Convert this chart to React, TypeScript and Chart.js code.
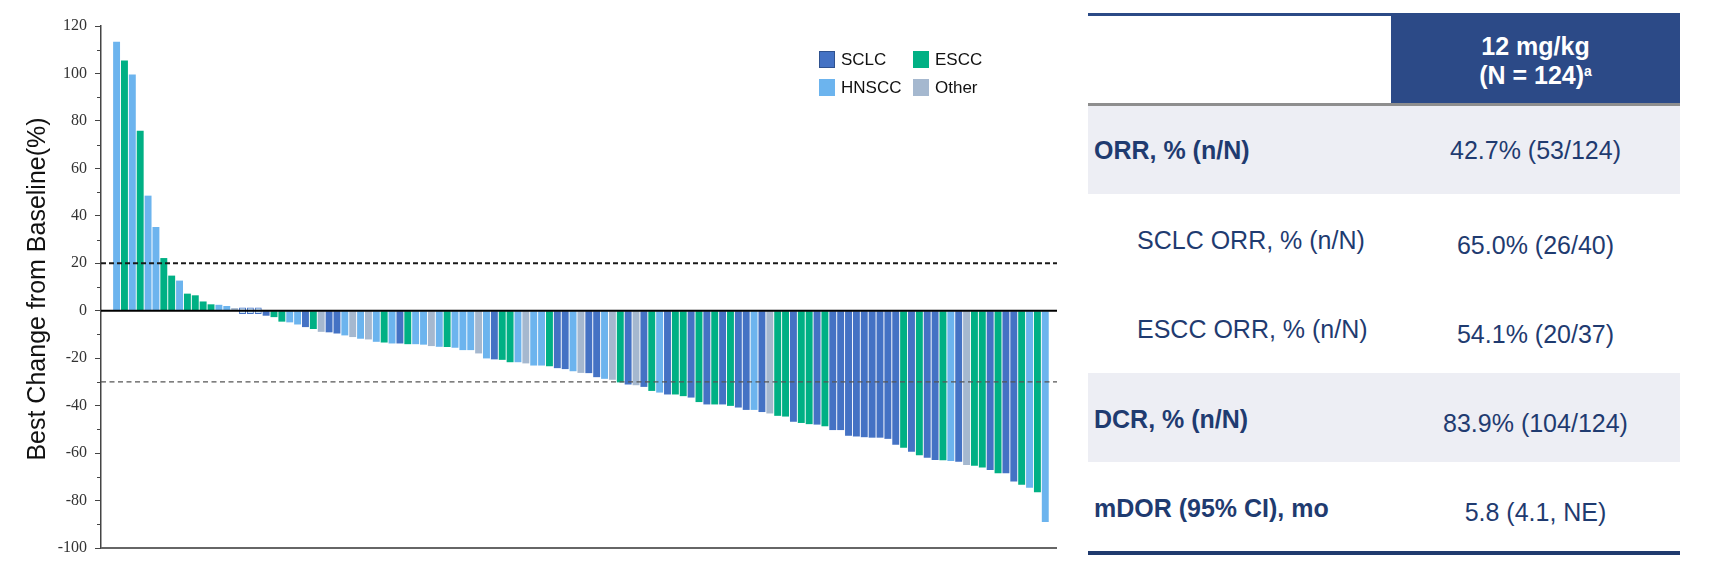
import React, { useEffect, useRef } from "react";
import { Chart, registerables } from "chart.js";

Chart.register(...registerables);

// ---------- DATA ----------
const changes: number[] = [
  113.4, 105.5, 99.6, 75.8, 48.5, 35.3, 22.2, 14.8, 12.7, 7.2,
  6.5, 3.9, 2.7, 2.5, 2.0, 1.1, 0, 0, 0, -2.1,
  -2.7, -4.6, -4.9, -5.8, -6.9, -7.7, -8.9, -9.1, -9.6, -10.4,
  -11.1, -11.8, -12.1, -13.1, -13.4, -13.8, -13.8, -14.1, -14.1, -14.3,
  -14.9, -15.2, -15.3, -15.6, -16.6, -16.6, -18.0, -20.1, -20.5, -20.7,
  -21.7, -21.7, -22.2, -23.1, -23.1, -23.4, -24.2, -24.6, -25.5, -26.2,
  -26.3, -28.0, -28.7, -29.1, -30.2, -31.1, -31.4, -32.1, -33.8, -34.5,
  -35.3, -35.3, -36.0, -36.6, -38.5, -39.5, -39.5, -39.5, -40.1, -40.8,
  -41.8, -41.8, -42.7, -43.3, -44.3, -44.6, -46.8, -47.3, -47.8, -48.0,
  -48.7, -50.3, -50.3, -52.7, -53.0, -53.3, -53.5, -53.5, -54.0, -56.5,
  -57.7, -59.4, -60.9, -62.0, -62.9, -63.0, -63.3, -63.6, -65.0, -65.3,
  -66.1, -67.1, -68.5, -68.5, -72.0, -73.3, -74.6, -76.5, -89.0,
];

const tumorTypes: string[] = [
  "HNSCC", "ESCC", "HNSCC", "ESCC", "HNSCC", "HNSCC", "ESCC", "ESCC", "HNSCC", "ESCC",
  "ESCC", "ESCC", "ESCC", "HNSCC", "HNSCC", "Other", "SCLC", "SCLC", "SCLC", "SCLC",
  "ESCC", "ESCC", "HNSCC", "HNSCC", "SCLC", "ESCC", "Other", "SCLC", "SCLC", "HNSCC",
  "Other", "HNSCC", "Other", "HNSCC", "ESCC", "HNSCC", "SCLC", "ESCC", "HNSCC", "HNSCC",
  "Other", "HNSCC", "ESCC", "HNSCC", "HNSCC", "HNSCC", "Other", "HNSCC", "SCLC", "ESCC",
  "ESCC", "HNSCC", "Other", "HNSCC", "HNSCC", "ESCC", "SCLC", "SCLC", "HNSCC", "Other",
  "SCLC", "SCLC", "HNSCC", "Other", "ESCC", "SCLC", "Other", "SCLC", "ESCC", "HNSCC",
  "SCLC", "ESCC", "ESCC", "SCLC", "ESCC", "SCLC", "ESCC", "SCLC", "ESCC", "SCLC",
  "SCLC", "HNSCC", "SCLC", "Other", "ESCC", "ESCC", "SCLC", "ESCC", "ESCC", "SCLC",
  "ESCC", "SCLC", "SCLC", "SCLC", "SCLC", "SCLC", "SCLC", "SCLC", "SCLC", "SCLC",
  "ESCC", "SCLC", "ESCC", "SCLC", "SCLC", "ESCC", "HNSCC", "SCLC", "Other", "ESCC",
  "ESCC", "SCLC", "ESCC", "SCLC", "SCLC", "ESCC", "HNSCC", "ESCC", "HNSCC",
];

const legendItems: string[] = ["SCLC", "ESCC", "HNSCC", "Other"];
const yTicks = { min: -100, max: 120, step: 20 };
const refLevels: number[] = [20, -30];
const yTitle = "Best Change from Baseline(%)";

const tableHeader: string[] = ["12 mg/kg", "(N = 124)"];
const tableLabels: string[] = [
  "ORR, % (n/N)",
  "SCLC ORR, % (n/N)",
  "ESCC ORR, % (n/N)",
  "DCR, % (n/N)",
  "mDOR (95% CI), mo",
];
const tableValues: string[] = [
  "42.7% (53/124)",
  "65.0% (26/40)",
  "54.1% (20/37)",
  "83.9% (104/124)",
  "5.8 (4.1, NE)",
];
const tableBold: boolean[] = [true, false, false, true, true];
const tableIndent: boolean[] = [false, true, true, false, false];
const tableShaded: boolean[] = [true, false, false, true, false];

// ---------- STYLE ----------
const COLORS: Record<string, string> = {
  SCLC: "#4472C4",
  ESCC: "#00B084",
  HNSCC: "#6CB4EE",
  Other: "#A5B8CF",
};
const NAVY = "#1F3B70";
const SANS = "'Liberation Sans', Arial, sans-serif";
const ZERO_MARK = 1.4;

const refLinesPlugin = {
  id: "refLines",
  afterDatasetsDraw(chart: any) {
    const { ctx, chartArea, scales } = chart;
    const y = scales.y;
    const l = chartArea.left;
    const r = chartArea.right;
    ctx.save();
    refLevels.forEach((lv, i) => {
      const py = y.getPixelForValue(lv);
      ctx.beginPath();
      ctx.setLineDash(i === 0 ? [5, 3] : [5, 3.5]);
      ctx.strokeStyle = i === 0 ? "#1a1a1a" : "#555555";
      ctx.lineWidth = i === 0 ? 1.8 : 1.4;
      ctx.moveTo(l, py);
      ctx.lineTo(r, py);
      ctx.stroke();
    });
    ctx.setLineDash([]);
    const p0 = y.getPixelForValue(0);
    ctx.beginPath();
    ctx.strokeStyle = "#000";
    ctx.lineWidth = 1.8;
    ctx.moveTo(l, p0);
    ctx.lineTo(r, p0);
    ctx.stroke();
    const pb = y.getPixelForValue(yTicks.min);
    ctx.beginPath();
    ctx.strokeStyle = "#666";
    ctx.lineWidth = 2;
    ctx.moveTo(l, pb);
    ctx.lineTo(r, pb);
    ctx.stroke();
    ctx.strokeStyle = "#444";
    ctx.lineWidth = 1;
    for (let v = yTicks.min + yTicks.step / 2; v < yTicks.max; v += yTicks.step) {
      const py = Math.round(y.getPixelForValue(v)) + 0.5;
      ctx.beginPath();
      ctx.moveTo(l - 4, py);
      ctx.lineTo(l, py);
      ctx.stroke();
    }
    ctx.translate(38, (chartArea.top + chartArea.bottom) / 2 + 2);
    ctx.rotate(-Math.PI / 2);
    ctx.fillStyle = "#111";
    ctx.font = `25px ${SANS}`;
    ctx.textAlign = "center";
    ctx.textBaseline = "middle";
    ctx.fillText(yTitle, 0, 0);
    ctx.restore();
  },
};

function WaterfallChart() {
  const ref = useRef<HTMLCanvasElement | null>(null);
  useEffect(() => {
    if (!ref.current) return;
    const chart = new Chart(ref.current, {
      type: "bar",
      data: {
        datasets: [
          {
            data: changes.map((v, i) => ({
              x: i + 1,
              y: v === 0 ? [-ZERO_MARK, ZERO_MARK] : v,
            })) as any,
            backgroundColor: changes.map((v, i) =>
              v === 0 ? "rgba(108,180,238,0.35)" : COLORS[tumorTypes[i]]
            ),
            borderColor: changes.map((v) => (v === 0 ? COLORS.SCLC : "rgba(0,0,0,0)")),
            borderWidth: changes.map((v) => (v === 0 ? 1 : 0)),
            borderSkipped: false,
            barPercentage: 0.88,
            categoryPercentage: 1,
          },
        ],
      },
      options: {
        animation: false,
        responsive: false,
        maintainAspectRatio: false,
        layout: { padding: { left: 0, right: 13, top: 26, bottom: 14 } },
        plugins: { legend: { display: false }, tooltip: { enabled: false } },
        scales: {
          x: {
            type: "linear",
            offset: false,
            min: 1 - 1.98,
            max: changes.length + 1.49,
            display: false,
            grid: { offset: false },
          },
          y: {
            min: yTicks.min,
            max: yTicks.max,
            ticks: {
              stepSize: yTicks.step,
              font: { family: "'Liberation Serif', 'Times New Roman', serif", size: 16 },
              color: "#333",
              padding: 8,
            },
            grid: {
              drawOnChartArea: false,
              drawTicks: true,
              tickLength: 6,
              color: "#444",
            },
            border: { display: true, color: "#444", width: 1.5 },
            afterFit: (s: any) => {
              s.width = 101;
              s.paddingTop = 0;
              s.paddingBottom = 0;
            },
          },
        },
      } as any,
      plugins: [refLinesPlugin],
    });
    return () => chart.destroy();
  }, []);
  return (
    <canvas
      ref={ref}
      width={1070}
      height={562}
      style={{ position: "absolute", left: 0, top: 0, width: 1070, height: 562 }}
    />
  );
}

function Legend() {
  const pos = [
    { sx: 819, sy: 51 },
    { sx: 913, sy: 51 },
    { sx: 819, sy: 79 },
    { sx: 913, sy: 79 },
  ];
  return (
    <>
      {legendItems.map((name, i) => (
        <div key={name}>
          <div
            style={{
              position: "absolute",
              left: pos[i].sx,
              top: pos[i].sy,
              width: 16,
              height: 17,
              boxSizing: "border-box",
              background: COLORS[name],
              border: name === "SCLC" ? "1.5px solid #2F528F" : "none",
            }}
          />
          <div
            style={{
              position: "absolute",
              left: pos[i].sx + 22,
              top: pos[i].sy - 3,
              height: 24,
              lineHeight: "24px",
              fontFamily: SANS,
              fontSize: 17,
              color: "#111",
              whiteSpace: "nowrap",
            }}
          >
            {name}
          </div>
        </div>
      ))}
    </>
  );
}

function SummaryTable() {
  const L = 1088;
  const R = 1680;
  const split = 1391;
  const rowTops = [105, 194, 283, 373, 462, 551];
  const labelOffsets = [0, 1, 1, 1, 1];
  const valueOffsets = [0, 6, 6, 5, 5];
  const headerStyle: any = {
    position: "absolute",
    left: split,
    width: R - split,
    height: 30,
    lineHeight: "30px",
    textAlign: "center",
    color: "#fff",
    fontFamily: SANS,
    fontWeight: "bold",
    fontSize: 25,
  };
  return (
    <>
      <div style={{ position: "absolute", left: L, top: 13, width: R - L, height: 3, background: "#2B4A86" }} />
      <div
        style={{
          position: "absolute",
          left: split,
          top: 14,
          width: R - split,
          height: 90,
          background: "#2C4A87",
        }}
      />
      <div style={{ ...headerStyle, top: 31 }}>{tableHeader[0]}</div>
      <div style={{ ...headerStyle, top: 60 }}>
        {tableHeader[1]}
        <sup style={{ fontSize: 14, verticalAlign: "top", lineHeight: "22px" }}>a</sup>
      </div>
      <div style={{ position: "absolute", left: L, top: 103, width: R - L, height: 2.5, background: "#8E8E8E" }} />
      {tableLabels.map((lab, i) => {
        const top = rowTops[i] + (i === 0 ? 0.5 : 0);
        const h = rowTops[i + 1] - rowTops[i];
        const mid = rowTops[i] + h / 2;
        return (
          <div key={lab}>
            <div
              style={{
                position: "absolute",
                left: L,
                top,
                width: R - L,
                height: h,
                background: tableShaded[i] ? "#EDEEF4" : "#fff",
              }}
            />
            <div
              style={{
                position: "absolute",
                left: tableIndent[i] ? 1137 : 1094,
                top: mid - 15 + labelOffsets[i],
                height: 30,
                lineHeight: "30px",
                color: NAVY,
                fontFamily: SANS,
                fontSize: 25,
                fontWeight: tableBold[i] ? "bold" : "normal",
                whiteSpace: "nowrap",
              }}
            >
              {lab}
            </div>
            <div
              style={{
                position: "absolute",
                left: split,
                width: R - split,
                top: mid - 15 + valueOffsets[i],
                height: 30,
                lineHeight: "30px",
                textAlign: "center",
                color: NAVY,
                fontFamily: SANS,
                fontSize: 25,
                whiteSpace: "nowrap",
              }}
            >
              {tableValues[i]}
            </div>
          </div>
        );
      })}
      <div style={{ position: "absolute", left: L, top: 551, width: R - L, height: 4, background: "#1F3A6E" }} />
    </>
  );
}

export default function App() {
  return (
    <div
      style={{
        position: "absolute",
        left: 0,
        top: 0,
        width: 1711,
        height: 562,
        background: "#fff",
        overflow: "hidden",
      }}
    >
      <WaterfallChart />
      <Legend />
      <SummaryTable />
    </div>
  );
}
